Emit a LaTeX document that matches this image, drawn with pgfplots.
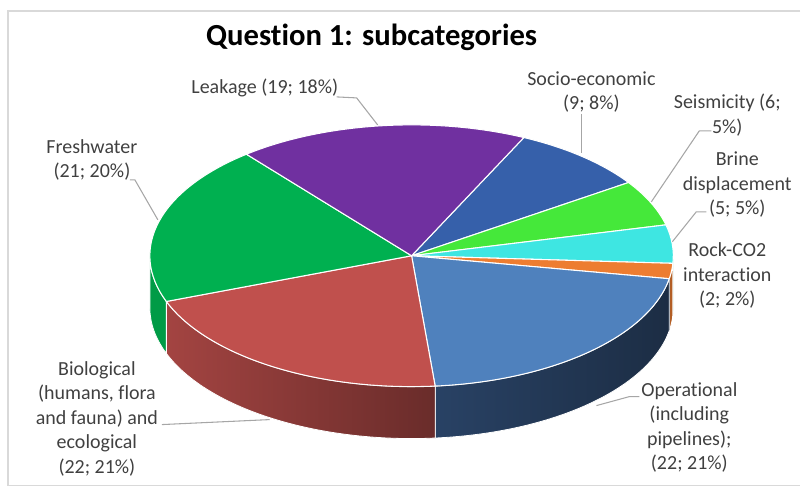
\documentclass[border=0pt]{standalone}
\usepackage{pgfplots}
\pgfplotsset{compat=1.18}
\usepackage{pgfplotstable}
\usepackage{fontspec}
\setmainfont{Carlito}[Ligatures=NoCommon]
\definecolor{cSocio}{HTML}{3660AA}
\definecolor{cSeis}{HTML}{45E83A}
\definecolor{cBrine}{HTML}{3EE6E2}
\definecolor{cRock}{HTML}{ED7D31}
\definecolor{cOper}{HTML}{4F81BD}
\definecolor{cBio}{HTML}{C0504D}
\definecolor{cFresh}{HTML}{00B050}
\definecolor{cLeak}{HTML}{7030A0}
\definecolor{sOperL}{HTML}{2A4468}
\definecolor{sOperR}{HTML}{1C2D44}
\definecolor{txt}{HTML}{404040}
\definecolor{lead}{HTML}{A6A6A6}
\definecolor{frame}{HTML}{D9D9D9}

\pgfplotstableread{
name value
Socio 9
Seis 6
Brine 5
Rock 2
Oper 22
Bio 22
Fresh 21
Leak 19
}\piedata

\newcommand\getval[2]{\pgfplotstablegetelem{#1}{value}\of\piedata\let#2\pgfplotsretval}
% pie geometry (pixel units of the reference; radii in pt = 0.75*px)
\def\cx{412}\def\cy{256}

\newcommand\topslice[3]{%
  \fill[#3, draw=white, line width=0.8pt, line join=round]
    (axis cs:\cx,\cy) -- ++({90-(#1)}:196.5pt and 98.25pt)
    arc[start angle={90-(#1)}, end angle={90-(#2)}, x radius=196.5pt, y radius=98.25pt] -- cycle;}
\newcommand\sideslice[4]{%
  \path[left color=#3, right color=#4, draw=white, line width=0.6pt]
    (axis cs:\cx,\cy) ++({90-(#1)}:196.5pt and 98.25pt)
    arc[start angle={90-(#1)}, end angle={90-(#2)}, x radius=196.5pt, y radius=98.25pt]
    -- ++(0,-39pt)
    arc[start angle={90-(#2)}, end angle={90-(#1)}, x radius=196.5pt, y radius=98.25pt] -- cycle;}

\begin{document}
\begin{tikzpicture}
\getval{0}\vA\getval{1}\vB\getval{2}\vC\getval{3}\vD
\getval{4}\vE\getval{5}\vF\getval{6}\vG\getval{7}\vH
\pgfmathsetmacro\tot{\vA+\vB+\vC+\vD+\vE+\vF+\vG+\vH}
\pgfmathsetmacro\tA{25.4}
\pgfmathsetmacro\tB{\tA+360*\vA/\tot}
\pgfmathsetmacro\tC{\tB+360*\vB/\tot}
\pgfmathsetmacro\tD{\tC+360*\vC/\tot}
\pgfmathsetmacro\tE{\tD+360*\vD/\tot}
\pgfmathsetmacro\tF{\tE+360*\vE/\tot}
\pgfmathsetmacro\tG{\tF+360*\vF/\tot}
\pgfmathsetmacro\tH{\tG+360*\vG/\tot}
\pgfmathsetmacro\tI{\tH+360*\vH/\tot}
\begin{axis}[
  scale only axis, width=600.75pt, height=369.75pt,
  xmin=0, xmax=801, ymin=0, ymax=493, y dir=reverse,
  hide axis, clip=false]
\path (axis cs:0,0) rectangle (axis cs:801,493);
% frame
\draw[frame, line width=1.2pt] (axis cs:801,11) -- (axis cs:8,11) -- (axis cs:8,486) -- (axis cs:801,486);
% side walls (front half, 90..270)
\sideslice{90}{\tD}{cBrine!70!black}{cBrine!70!black}
\sideslice{\tD}{\tE}{cRock!75!black}{cRock!75!black}
\sideslice{\tE}{\tF}{sOperL}{sOperR}
\sideslice{\tF}{\tG}{cBio!85!black}{cBio!55!black}
\sideslice{\tG}{270}{cFresh!88!black}{cFresh!88!black}
% top faces
\topslice{\tA}{\tB}{cSocio}
\topslice{\tB}{\tC}{cSeis}
\topslice{\tC}{\tD}{cBrine}
\topslice{\tD}{\tE}{cRock}
\topslice{\tE}{\tF}{cOper}
\topslice{\tF}{\tG}{cBio}
\topslice{\tG}{\tH}{cFresh}
\topslice{\tH}{\tI}{cLeak}
% title
\node[font=\fontsize{23}{27}\selectfont\bfseries, text=black] at (axis cs:372,37) {Quest\kern0pt ion 1: subcategories};
% leader lines
\begin{scope}[lead, line width=0.8pt]
\draw (axis cs:337,97) -- (axis cs:357,98) -- (axis cs:378,125);
\draw (axis cs:582,114) -- (axis cs:582,153);
\draw (axis cs:712,131) -- (axis cs:700,131) -- (axis cs:652,202);
\draw (axis cs:707,212) -- (axis cs:697,212) -- (axis cs:673,242);
\draw (axis cs:640,397) -- (axis cs:630,397) -- (axis cs:597,406);
\draw (axis cs:162,425) -- (axis cs:270,420);
\draw (axis cs:130,180) -- (axis cs:135,180) -- (axis cs:158,220);
\end{scope}
% labels
\begin{scope}[every node/.style={align=center, text=txt, font=\fontsize{15}{18.4}\selectfont, inner sep=0pt}]
\node at (axis cs:265,88) {Leakage (19; 18\%)};
\node at (axis cs:592,92) {Socio-economic\\(9; 8\%)};
\node at (axis cs:728,115) {Seismicity (6;\\5\%)};
\node at (axis cs:738,185) {Brine\\displacement\\(5; 5\%)};
\node at (axis cs:728,276) {Rock-CO2\\interact\kern0pt ion\\(2; 2\%)};
\node at (axis cs:690,428) {Operat\kern0pt ional\\(including\\pipelines);\\(22; 21\%)};
\node at (axis cs:97,419) {Biological\\(humans, flora\\and fauna) and\\ecological\\(22; 21\%)};
\node at (axis cs:92,160) {Freshwater\\(21; 20\%)};
\end{scope}
\end{axis}
\end{tikzpicture}
\end{document}
